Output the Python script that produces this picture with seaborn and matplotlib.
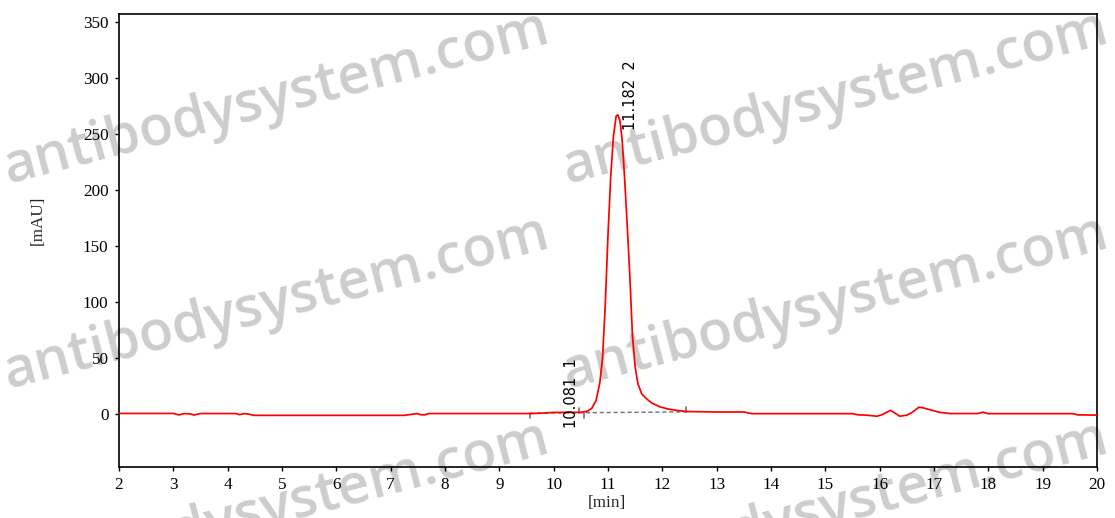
import numpy as np
import pandas as pd
import matplotlib
matplotlib.use("Agg")
import matplotlib.pyplot as plt
import seaborn as sns

# ---- data ----
time_min = [2.0, 3.0, 3.1, 3.2, 3.3, 3.38, 3.5, 4.15, 4.22, 4.3, 4.38, 4.48,
            7.25, 7.4, 7.48, 7.55, 7.62, 7.7, 9.6, 9.8, 10.0, 10.5, 10.62,
            10.7, 10.78, 10.85, 10.9, 10.95, 11.0, 11.05, 11.1, 11.15, 11.18,
            11.22, 11.26, 11.3, 11.35, 11.4, 11.45, 11.5, 11.55, 11.62, 11.7,
            11.8, 11.95, 12.1, 12.3, 12.45, 13.0, 13.5, 13.65, 15.5, 15.6,
            15.8, 15.95, 16.05, 16.2, 16.37, 16.5, 16.6, 16.72, 16.8, 16.95,
            17.1, 17.3, 17.8, 17.9, 18.0, 19.55, 19.65, 20.0]
signal_mau = [0.5, 0.5, -0.8, 0.3, 0.2, -0.9, 0.4, 0.4, -0.6, 0.3, 0.0, -1.2,
              -1.2, -0.2, 0.3, -0.6, -0.8, 0.4, 0.4, 0.8, 1.4, 1.5, 2.5,
              5.0, 12.0, 28.0, 50.0, 98.0, 160.0, 212.0, 248.0, 266.0, 267.0,
              262.0, 245.0, 215.0, 172.0, 125.0, 70.0, 42.0, 27.0, 18.0, 14.0,
              10.0, 6.5, 4.5, 3.0, 2.2, 1.8, 1.8, 0.3, 0.3, -0.7,
              -1.2, -2.0, -0.5, 3.3, -2.0, -1.0, 1.5, 6.0, 5.5, 3.5,
              1.5, 0.4, 0.4, 1.6, 0.3, 0.3, -0.8, -1.0]

# integration baseline (dashed) and peak boundary marks
baseline_t = [9.57, 12.44]
baseline_y = [0.8, 1.9]
mark_t = [9.57, 10.47, 10.56, 12.44]
mark_dir = [-1, 1, -1, 1]

peak_labels = ["10.081  1", "11.182  2"]
peak_label_t = [10.32, 11.41]
peak_label_y = [-12.5, 253.5]

x_ticks = list(range(2, 21))
y_ticks = list(range(0, 351, 50))
x_label = "[min]"
y_label = "[mAU]"
watermark = "antibodysystem.com"

# ---- figure ----
sns.set_style("white")
plt.rcParams["font.family"] = ["Liberation Serif", "DejaVu Serif"]

W, H = 1115, 518
fig = plt.figure(figsize=(W / 100, H / 100), dpi=100)
ax = fig.add_axes([119 / W, (H - 467) / H, (1097 - 119) / W, (467 - 14) / H])
ax.set_zorder(2)
ax.patch.set_alpha(0)

df = pd.DataFrame({"t": time_min, "y": signal_mau})
sns.lineplot(data=df, x="t", y="y", color="#ff0000", linewidth=1.25,
             estimator=None, sort=False, ax=ax, zorder=3)

ax.plot(baseline_t, baseline_y, linestyle=(0, (3, 2)), color="#707070",
        linewidth=1.0, zorder=2)
bl = np.interp(mark_t, baseline_t, baseline_y)
for t, b, d in zip(mark_t, bl, mark_dir):
    ax.plot([t, t], [b, b + d * 4.5], color="#707070", linewidth=1.2, zorder=2)

for lab, t, y in zip(peak_labels, peak_label_t, peak_label_y):
    ax.text(t, y, lab, rotation=90, ha="center", va="bottom",
            fontsize=10.5, family=["DejaVu Sans"], color="black", zorder=4)

ax.set_xlim(2, 20)
ax.set_ylim(-47.3, 357)
ax.set_xticks(x_ticks)
ax.set_yticks(y_ticks)
ax.tick_params(axis="both", direction="out", length=3, width=1.0,
               labelsize=12.3, colors="black", bottom=True, left=True)
ax.tick_params(axis="x", pad=4)
ax.tick_params(axis="y", pad=4.5)
for s in ax.spines.values():
    s.set_color("black")
    s.set_linewidth(1.2)
    s.set_visible(True)
ax.set_xlabel("")
ax.set_ylabel("")
fig.text(607 / W, 1 - 503 / H, x_label, ha="center", va="center", fontsize=12.3)
fig.text(38 / W, 1 - 220 / H, y_label, ha="center", va="center",
         fontsize=12.3, rotation=90)

# ---- watermark ----
wm_font = dict(family=["Open Sans", "DejaVu Sans"], weight="semibold")
probe = fig.text(0, 0, watermark, fontsize=40, **wm_font)
fig.canvas.draw()
w_probe = probe.get_window_extent().width
probe.remove()
wm_size = 40 * 560 / w_probe

for x0 in (8, 567):
    for y0 in (183, 388, 593):
        fig.text(x0 / W, 1 - y0 / H, watermark, fontsize=wm_size,
                 color="#cdcdcd", rotation=14.6, rotation_mode="anchor",
                 ha="left", va="baseline", zorder=0.5, **wm_font)

fig.savefig("out.png", dpi=100)
